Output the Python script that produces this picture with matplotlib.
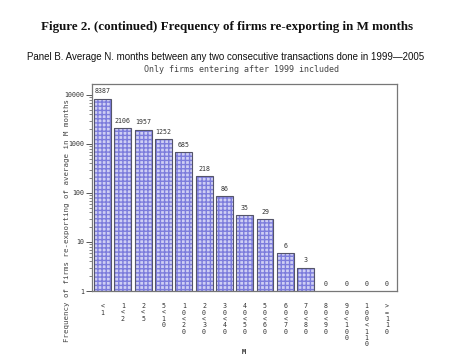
import matplotlib
matplotlib.use("Agg")
import matplotlib.pyplot as plt
import numpy as np

categories = ["<1", "1<2", "2<5", "5<10", "10<20", "20<30", "30<40", "40<50",
              "50<60", "60<70", "70<80", "80<90", "90<100", "100<110", ">=110"]
counts = [8387, 2106, 1957, 1252, 685, 218, 86, 35, 29, 6, 3, 0, 0, 0, 0]
yticks = [1, 10, 100, 1000, 10000]
ytick_labels = ["1", "10", "100", "1000", "10000"]

title = "Figure 2. (continued) Frequency of firms re-exporting in M months"
subtitle = "Panel B. Average N. months between any two consecutive transactions done in 1999\u20142005"
subtitle2 = "Only firms entering after 1999 included"
ylabel = "Frequency of firms re-exporting of average in M months"
xlabel = "M"

W, H = 473, 362
fig = plt.figure(figsize=(W / 100, H / 100), dpi=100)
ax = fig.add_axes([92 / W, 1 - 291 / H, (397 - 92) / W, (291 - 84) / H])

x = np.arange(len(categories))
vals = np.array(counts, dtype=float)
ax.set_yscale("log")
ax.bar(x, vals, width=0.83, color="#cfcff4", hatch="++++", edgecolor="#7c7cdc", linewidth=0)
ax.bar(x, vals, width=0.83, fill=False, edgecolor="#55556a", linewidth=0.8)

for xi, v in zip(x, counts):
    ax.annotate(str(v), (xi, max(v, 1)), xytext=(0, 3), textcoords="offset points",
                ha="center", va="bottom", fontsize=4.8, family="DejaVu Sans Mono", color="#333333")

ax.set_ylim(1, 16700)
ax.set_xlim(-0.52, len(categories) - 0.5)
ax.set_yticks(yticks)
ax.set_yticklabels(ytick_labels, family="DejaVu Sans Mono", fontsize=4.8, color="#333333")
ax.tick_params(axis="y", which="major", length=4, width=0.7, color="#555555", pad=1.5)
ax.tick_params(axis="y", which="minor", length=2, width=0.5, color="#555555")
ax.set_xticks(x)
ax.set_xticklabels(["\n".join(c) for c in categories], family="DejaVu Sans Mono",
                   fontsize=4.8, color="#333333", linespacing=1.05, va="top")
ax.tick_params(axis="x", length=0, pad=9)
for s in ax.spines.values():
    s.set_color("#777777")
    s.set_linewidth(0.9)

fig.text(227.5 / W, 1 - 27 / H, title, ha="center", va="center", family="Liberation Serif",
         fontweight="bold", fontsize=9.4, color="#111111")
fig.text(226 / W, 1 - 57 / H, subtitle, ha="center", va="center", family="Liberation Sans",
         fontsize=7.05, color="#111111")
fig.text(241 / W, 1 - 70 / H, subtitle2, ha="center", va="center", family="DejaVu Sans Mono",
         fontsize=6.0, color="#444444")
fig.text(67 / W, 1 - 220 / H, ylabel, ha="center", va="center", rotation=90,
         family="DejaVu Sans Mono", fontsize=5.3, color="#444444")
fig.text(244 / W, 1 - 352 / H, xlabel, ha="center", va="center",
         family="DejaVu Sans Mono", fontsize=5.0, color="#333333", fontweight="bold")

fig.savefig("out.png", dpi=100)
